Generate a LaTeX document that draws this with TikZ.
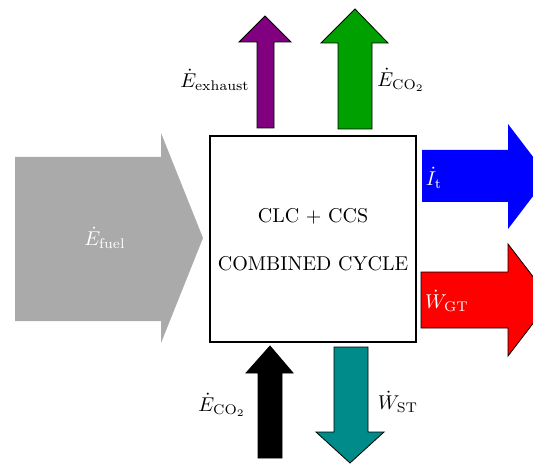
\documentclass[tikz,border=0pt]{standalone}
\definecolor{fuelgray}{RGB}{170,170,170}
\definecolor{exgreen}{RGB}{0,160,0}
\definecolor{expurple}{RGB}{128,0,128}
\definecolor{stteal}{RGB}{0,139,139}
\begin{document}
\begin{tikzpicture}[x=0.5pt, y=-0.5pt,
    flow/.style={draw=black, line width=0.4pt},
    bare/.style={draw=none},
    lbl/.style={inner sep=0pt},
    wlbl/.style={inner sep=0pt, text=white}]
        \clip (0,0) rectangle (533,464);

        % the plant
        \draw[line width=1pt] (210,136) rectangle (416,342);
        \node[lbl] (t1) at (313,216) {CLC + CCS};
        \node[lbl] (t2) at (313,264) {COMBINED CYCLE};

        % inlet from the left
        \fill[fuelgray] (15,157)--(161,157)--(161,133)--(203,238)--(161,343)--(161,321)--(15,321)--cycle;
        \node[wlbl] (fuel) at (105,238) {$\dot{E}_{\mathrm{fuel}}$};

        % outlets on the right
        \fill[blue] (422,150)--(508,150)--(508,124)--(548,176.5)--(508,229)--(508,202)--(422,202)--cycle;
        \node[wlbl] (it) at (434,178) {$\dot{I}_{\mathrm{t}}$};

        \filldraw[flow, fill=red] (421,272)--(508,272)--(508,244)--(551,300)--(508,356)--(508,328)--(421,328)--cycle;
        \node[wlbl] (wgt) at (447,301) {$\dot{W}_{\mathrm{GT}}$};

        % top
        \filldraw[flow, fill=expurple] (257,128)--(257,42)--(239,42)--(265,16)--(291,42)--(274,42)--(274,128)--cycle;
        \node[lbl] (ex) at (215,80) {$\dot{E}_{\mathrm{exhaust}}$};

        \filldraw[flow, fill=exgreen] (338,129)--(338,43)--(321,43)--(355,9)--(388,43)--(372,43)--(372,129)--cycle;
        \node[lbl] (co2out) at (401,80) {$\dot{E}_{\mathrm{CO_2}}$};

        % bottom
        \filldraw[flow, fill=black] (258,458)--(258,373)--(246,373)--(270,346)--(293,373)--(282,373)--(282,458)--cycle;
        \node[lbl] (co2in) at (222,405) {$\dot{E}_{\mathrm{CO_2}}$};

        \filldraw[flow, fill=stteal] (334,347)--(368,347)--(368,432)--(384,432)--(350,463)--(316,432)--(334,432)--cycle;
        \node[lbl] (wst) at (398,402) {$\dot{W}_{\mathrm{ST}}$};
\end{tikzpicture}
\end{document}
